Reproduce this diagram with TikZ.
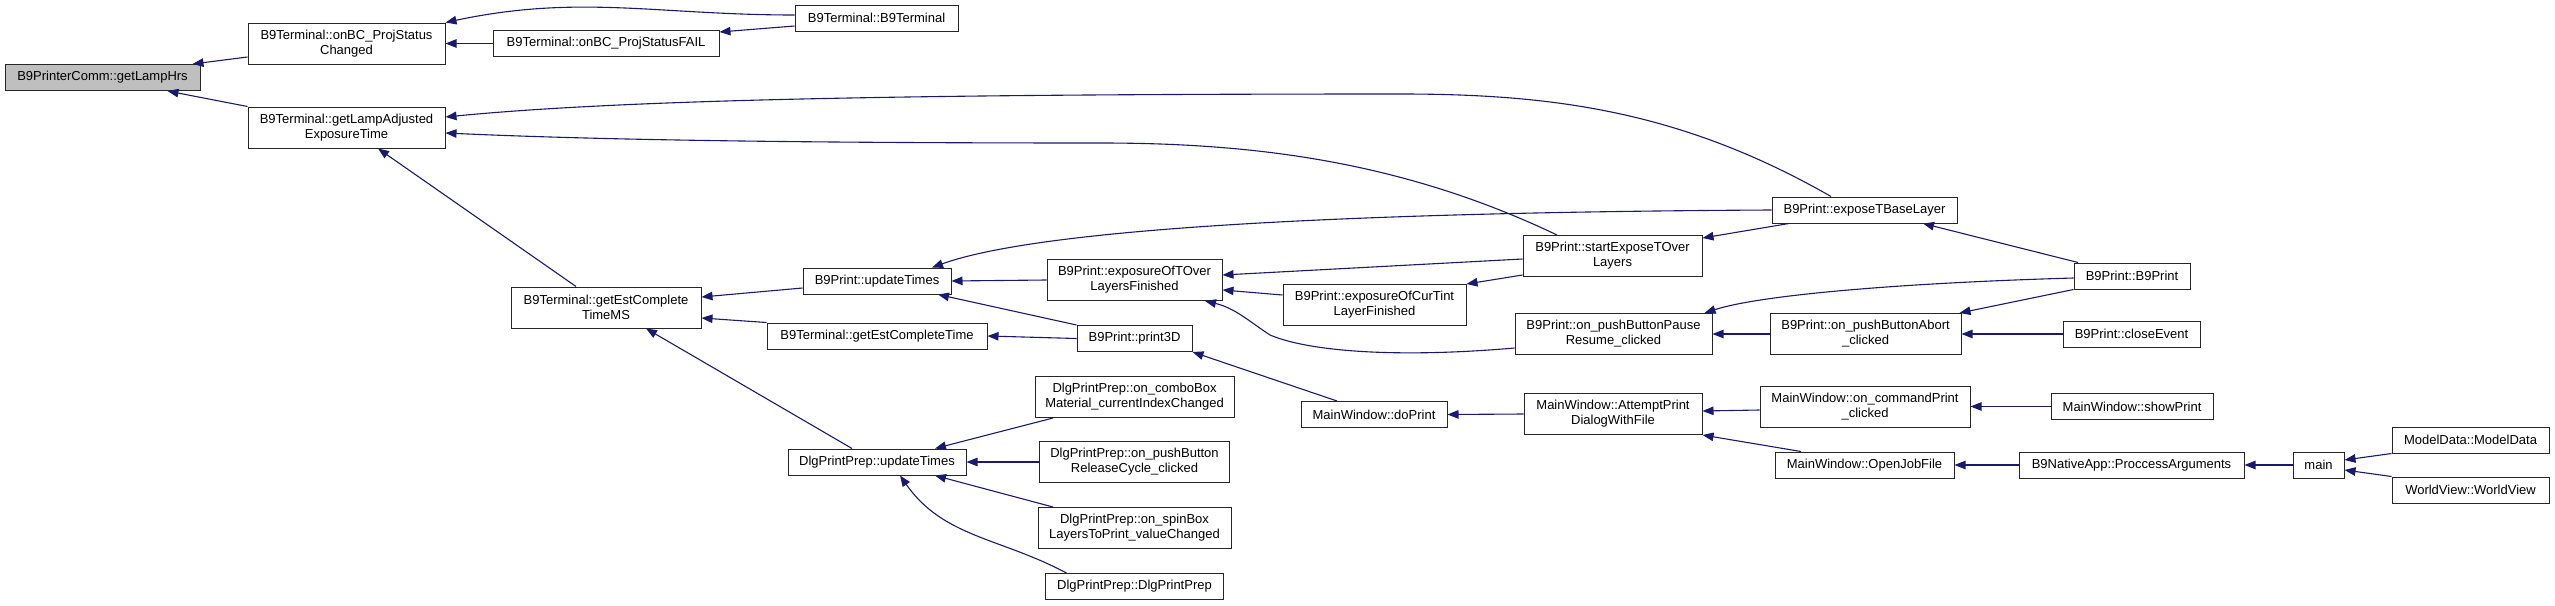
\documentclass[tikz,border=0pt]{standalone}
\usepackage{fontspec}
\setmainfont{Liberation Sans}
\usetikzlibrary{arrows.meta, calc}
\definecolor{edgeblue}{HTML}{191970}
\definecolor{focusgrey}{HTML}{BFBFBF}
\tikzset{
  fn/.style={draw=black!85, line width=1pt, fill=white, align=center, inner sep=1pt,
    minimum height=26, font=\fontsize{13}{15}\selectfont},
  fnii/.style={fn, minimum height=41},
  fnFocus/.style={fn, fill=focusgrey},
  call/.style={-{Triangle[length=11pt, width=8.5pt]}, line width=1.1pt, edgeblue},
}

\begin{document}
\begin{tikzpicture}[x=1pt, y=-1pt]
\useasboundingbox (0,0) rectangle (2555,605);

% column 0 and 1
\node[fnFocus, minimum width=195] (lampHrs) at (102.5,77.5) {B9PrinterComm::getLampHrs};
\node[fnii, minimum width=197] (projChanged) at (346.5,43.5) {B9Terminal::onBC\_ProjStatus\\Changed};
\node[fnii, minimum width=197] (lampAdj) at (346.5,127.5) {B9Terminal::getLampAdjusted\\ExposureTime};

% column 2 and 3
\node[fn, minimum width=226] (projFail) at (606,43.5) {B9Terminal::onBC\_ProjStatusFAIL};
\node[fnii, minimum width=190] (estMS) at (606,307.5) {B9Terminal::getEstComplete\\TimeMS};
\node[fn, minimum width=163] (terminal) at (876.5,18) {B9Terminal::B9Terminal};
\node[fn, minimum width=148] (printUpd) at (877,281) {B9Print::updateTimes};
\node[fn, minimum width=220] (estTime) at (877,336) {B9Terminal::getEstCompleteTime};
\node[fn, minimum width=178] (dlgUpd) at (877,462) {DlgPrintPrep::updateTimes};

% column 4
\node[fnii, minimum width=175] (tOverFin) at (1134.5,280) {B9Print::exposureOfTOver\\LayersFinished};
\node[fn, minimum width=115] (print3D) at (1134.5,338.5) {B9Print::print3D};
\node[fnii, minimum width=199] (combo) at (1134.5,397) {DlgPrintPrep::on\_comboBox\\Material\_currentIndexChanged};
\node[fnii, minimum width=190] (release) at (1134.5,462) {DlgPrintPrep::on\_pushButton\\ReleaseCycle\_clicked};
\node[fnii, minimum width=193] (spin) at (1134.5,528) {DlgPrintPrep::on\_spinBox\\LayersToPrint\_valueChanged};
\node[fn, minimum width=178] (dlgCtor) at (1134.5,586.5) {DlgPrintPrep::DlgPrintPrep};

% column 5 and 6
\node[fnii, minimum width=183] (curTint) at (1374.5,305) {B9Print::exposureOfCurTint\\LayerFinished};
\node[fn, minimum width=146] (doPrint) at (1374,414.5) {MainWindow::doPrint};
\node[fnii, minimum width=179] (startExp) at (1612.5,256) {B9Print::startExposeTOver\\Layers};
\node[fnii, minimum width=197] (pauseRes) at (1613.5,334) {B9Print::on\_pushButtonPause\\Resume\_clicked};
\node[fnii, minimum width=178] (attempt) at (1613,414) {MainWindow::AttemptPrint\\DialogWithFile};

% column 7 and 8
\node[fn, minimum width=185] (baseLayer) at (1864.5,210) {B9Print::exposeTBaseLayer};
\node[fnii, minimum width=191] (abort) at (1865.5,334) {B9Print::on\_pushButtonAbort\\\_clicked};
\node[fnii, minimum width=210] (cmdPrint) at (1865,406.5) {MainWindow::on\_commandPrint\\\_clicked};
\node[fn, minimum width=179] (openJob) at (1864.5,465) {MainWindow::OpenJobFile};
\node[fn, minimum width=116] (b9Print) at (2132,276) {B9Print::B9Print};
\node[fn, minimum width=137] (closeEv) at (2131.5,334) {B9Print::closeEvent};
\node[fn, minimum width=162] (showPrint) at (2132,406.5) {MainWindow::showPrint};
\node[fn, minimum width=225] (procArgs) at (2131.5,465) {B9NativeApp::ProccessArguments};

% column 9 and 10
\node[fn, minimum width=51] (mainFn) at (2318.5,465) {main};
\node[fn, minimum width=157] (modelData) at (2470.5,440) {ModelData::ModelData};
\node[fn, minimum width=157] (worldView) at (2470.5,490) {WorldView::WorldView};

% callers -> callees
\draw[call] ([yshift=-13.5pt]projChanged.west) -- ([xshift=-8pt]lampHrs.north east);
\draw[call] (lampAdj.north west) -- ([xshift=-33pt]lampHrs.south east);
\draw[call] (projFail.west) -- (projChanged.east);
\draw[call] ([yshift=3pt]terminal.west) to[out=180, in=12] (projChanged.north east);
\draw[call] ([yshift=-8pt]terminal.west) -- ([yshift=-2pt]projFail.north east);
\draw[call] ([xshift=-33.5pt]baseLayer.north) .. controls (1680,110) and (1550,94) .. (1400,94)
  .. controls (900,94) and (620,100) .. ([yshift=10.5pt]lampAdj.east);
\draw[call] ([xshift=-55.5pt]startExp.north) .. controls (1400,160) and (1250,143) .. (1100,143)
  .. controls (800,143) and (600,140) .. ([yshift=-5.5pt]lampAdj.east);
\draw[call] ([xshift=-30pt]estMS.north) -- ([xshift=31.5pt]lampAdj.south);
\draw[call] ([yshift=-7pt]printUpd.west) -- ([yshift=10.5pt]estMS.east);
\draw[call] (estTime.north west) -- ([yshift=-10.5pt]estMS.east);
\draw[call] ([xshift=-25pt]dlgUpd.north) -- ([xshift=40pt]estMS.south);
\draw[call] (tOverFin.west) -- (printUpd.east);
\draw[call] (print3D.north west) -- ([xshift=61pt]printUpd.south);
\draw[call] (baseLayer.west) .. controls (1400,212) and (1050,225) .. ([xshift=55pt]printUpd.north);
\draw[call] (print3D.west) -- (estTime.east);
\draw[call] ([xshift=-81.5pt]combo.south) -- ([xshift=58pt]dlgUpd.north);
\draw[call] (release.west) -- (dlgUpd.east);
\draw[call] ([xshift=-81.5pt]spin.north) -- ([xshift=58pt]dlgUpd.south);
\draw[call] ([xshift=-68pt]dlgCtor.north) to[out=152, in=-55] ([xshift=23pt]dlgUpd.south);
\draw[call] ([yshift=-3pt]startExp.west) -- ([yshift=5pt]tOverFin.east);
\draw[call] ([yshift=10pt]curTint.west) -- ([yshift=-10pt]tOverFin.east);
\draw[call] ([yshift=-14pt]pauseRes.west) .. controls (1400,358) and (1310,352) .. (1270,335)
  .. controls (1250,322) and (1235,308) .. ([xshift=70.5pt]tOverFin.south);
\draw[call] ([yshift=2pt]startExp.south west) -- (curTint.north east);
\draw[call] ([xshift=-75.5pt]baseLayer.south) -- ([yshift=18pt]startExp.east);
\draw[call] ([xshift=-54pt]b9Print.north) -- ([xshift=58.5pt]baseLayer.south);
\draw[call] ([yshift=-2pt]b9Print.west) .. controls (1900,283) and (1760,295) .. ([xshift=-8pt]pauseRes.north east);
\draw[call] (b9Print.south west) -- ([xshift=-2pt]abort.north east);
\draw[call] (abort.west) -- (pauseRes.east);
\draw[call] (closeEv.west) -- (abort.east);
\draw[call] ([xshift=-37pt]doPrint.north) -- (print3D.south east);
\draw[call] (attempt.west) -- (doPrint.east);
\draw[call] ([yshift=-3.5pt]cmdPrint.west) -- ([yshift=3pt]attempt.east);
\draw[call] ([xshift=-63.5pt]openJob.north) -- (attempt.south east);
\draw[call] (showPrint.west) -- (cmdPrint.east);
\draw[call] (procArgs.west) -- (openJob.east);
\draw[call] (mainFn.west) -- (procArgs.east);
\draw[call] (modelData.south west) -- ([yshift=5pt]mainFn.east);
\draw[call] (worldView.north west) -- ([yshift=-5pt]mainFn.east);
\end{tikzpicture}
\end{document}
